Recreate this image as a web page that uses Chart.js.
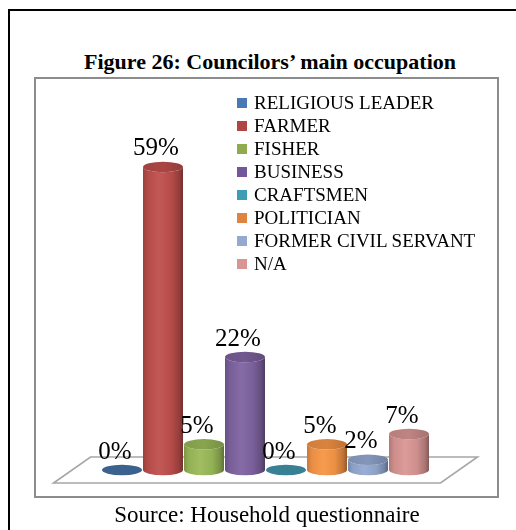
<!DOCTYPE html>
<html>
<head>
<meta charset="utf-8">
<script src="https://cdn.jsdelivr.net/npm/chart.js@4/dist/chart.umd.min.js"></script>
<style>
  html, body { margin: 0; padding: 0; background: #fff; }
  body { width: 516px; height: 530px; position: relative; overflow: hidden; font-family: "Liberation Serif", "DejaVu Serif", serif; color: #000; }
  #outer { position: absolute; left: 8px; top: 9px; width: 700px; height: 700px; border: 2px solid #000; box-sizing: border-box; }
  #title { position: absolute; left: 0; width: 540px; top: 48px; text-align: center; font-weight: bold; font-size: 22px; line-height: 28px; white-space: nowrap; }
  #frame { position: absolute; left: 34px; top: 77px; width: 465px; height: 421px; border: 2px solid #8c8c8c; box-sizing: border-box; }
  #source { position: absolute; left: 0; width: 534px; top: 502px; text-align: center; font-size: 23px; line-height: 26px; white-space: nowrap; }
  #legend { position: absolute; left: 237px; top: 91px; margin: 0; padding: 0; list-style: none; }
  #legend li { height: 23px; line-height: 23px; font-size: 19px; white-space: nowrap; position: relative; padding-left: 17px; }
  #legend li span { position: absolute; left: 0; top: 7px; width: 10px; height: 10px; }
  #chart { position: absolute; left: 0; top: 0; }
</style>
</head>
<body>
<div id="outer"></div>
<div id="title">Figure 26: Councilors’ main occupation</div>
<div id="frame"></div>
<canvas id="chart" width="516" height="530"></canvas>
<ul id="legend"></ul>
<div id="source">Source: Household questionnaire</div>
<script>
// Occupation categories and their share of councilors (%)
const categories = [
  'RELIGIOUS LEADER', 'FARMER', 'FISHER', 'BUSINESS',
  'CRAFTSMEN', 'POLITICIAN', 'FORMER CIVIL SERVANT', 'N/A'
];
const shares = [0, 59, 5, 22, 0, 5, 2, 7];
const barColors = ['#4F81BD', '#C0504D', '#9BBB59', '#8064A2', '#4BACC6', '#F79646', '#95AAD3', '#D99694'];
const legendColors = ['#4A78B2', '#B04644', '#8FAB4E', '#72579A', '#3F9CB5', '#DF8440', '#95A9D0', '#D99594'];

function shade(hex, f) {
  const n = parseInt(hex.slice(1), 16);
  let r = (n >> 16) & 255, g = (n >> 8) & 255, b = n & 255;
  if (f < 1) { r *= f; g *= f; b *= f; }
  else { const t = f - 1; r += (255 - r) * t; g += (255 - g) * t; b += (255 - b) * t; }
  return `rgb(${Math.round(r)},${Math.round(g)},${Math.round(b)})`;
}

// Floor parallelogram under the bars
const floorPlugin = {
  id: 'floor',
  beforeDatasetsDraw(chart) {
    const { ctx, chartArea: a } = chart;
    const baseY = chart.scales.y.getPixelForValue(0);
    ctx.save();
    ctx.beginPath();
    ctx.moveTo(a.left - 48, baseY + 13);
    ctx.lineTo(a.right + 11, baseY + 13);
    ctx.lineTo(a.right + 48, baseY - 13);
    ctx.lineTo(a.left - 11, baseY - 13);
    ctx.closePath();
    ctx.fillStyle = '#ffffff';
    ctx.fill();
    ctx.strokeStyle = '#a6a6a6';
    ctx.lineWidth = 1.6;
    ctx.stroke();
    ctx.restore();
  }
};

// Cylinders built on each bar element's geometry, plus value labels
const cylinderPlugin = {
  id: 'cylinders',
  afterDatasetsDraw(chart) {
    const { ctx } = chart;
    const meta = chart.getDatasetMeta(0);
    const ry = 5.2;
    meta.data.forEach((bar, i) => {
      const col = barColors[i];
      const cx = bar.x, rx = bar.width / 2 - 0.5;
      const top = bar.y, base = bar.base;
      ctx.save();
      if (base - top > 0.5) {
        const g = ctx.createLinearGradient(cx - rx, 0, cx + rx, 0);
        g.addColorStop(0, shade(col, 0.8));
        g.addColorStop(0.12, shade(col, 0.94));
        g.addColorStop(0.4, shade(col, 1.05));
        g.addColorStop(0.7, shade(col, 0.95));
        g.addColorStop(0.9, shade(col, 0.78));
        g.addColorStop(1, shade(col, 0.6));
        ctx.beginPath();
        ctx.moveTo(cx - rx, top);
        ctx.lineTo(cx - rx, base);
        ctx.ellipse(cx, base, rx, ry, 0, Math.PI, 0, true);
        ctx.lineTo(cx + rx, top);
        ctx.ellipse(cx, top, rx, ry, 0, 0, Math.PI, false);
        ctx.closePath();
        ctx.fillStyle = g;
        ctx.fill();
        const tg = ctx.createLinearGradient(cx - rx, 0, cx + rx, 0);
        tg.addColorStop(0, shade(col, 0.84));
        tg.addColorStop(0.5, shade(col, 0.88));
        tg.addColorStop(1, shade(col, 0.76));
        ctx.beginPath();
        ctx.ellipse(cx, top, rx, ry, 0, 0, Math.PI * 2);
        ctx.fillStyle = tg;
        ctx.fill();
      } else {
        ctx.beginPath();
        ctx.ellipse(cx, base, rx, ry, 0, 0, Math.PI * 2);
        ctx.fillStyle = shade(col, 0.75);
        ctx.fill();
      }
      ctx.restore();
    });
    ctx.save();
    ctx.fillStyle = '#000';
    ctx.font = '25px "Liberation Serif", serif';
    ctx.textAlign = 'center';
    ctx.textBaseline = 'middle';
    meta.data.forEach((bar, i) => {
      ctx.fillText(shares[i] + '%', bar.x - 7, bar.y - 18);
    });
    ctx.restore();
  }
};

const chart = new Chart(document.getElementById('chart'), {
  type: 'bar',
  data: {
    labels: categories,
    datasets: [{
      label: 'Main occupation',
      data: shares,
      backgroundColor: 'rgba(0,0,0,0)',
      borderWidth: 0,
      categoryPercentage: 1,
      barPercentage: 1
    }]
  },
  options: {
    responsive: false,
    animation: false,
    devicePixelRatio: 1,
    layout: { padding: { left: 101.5, right: 86.5, top: 161.8, bottom: 60 } },
    scales: {
      x: { display: false },
      y: { display: false, min: 0, max: 60 }
    },
    plugins: {
      legend: { display: false },
      tooltip: { enabled: false },
      title: { display: false }
    }
  },
  plugins: [floorPlugin, cylinderPlugin]
});

// Legend list from the categories
const legendEl = document.getElementById('legend');
categories.forEach((name, i) => {
  const li = document.createElement('li');
  const sw = document.createElement('span');
  sw.style.background = legendColors[i];
  li.appendChild(sw);
  li.appendChild(document.createTextNode(name));
  legendEl.appendChild(li);
});
</script>
</body>
</html>
